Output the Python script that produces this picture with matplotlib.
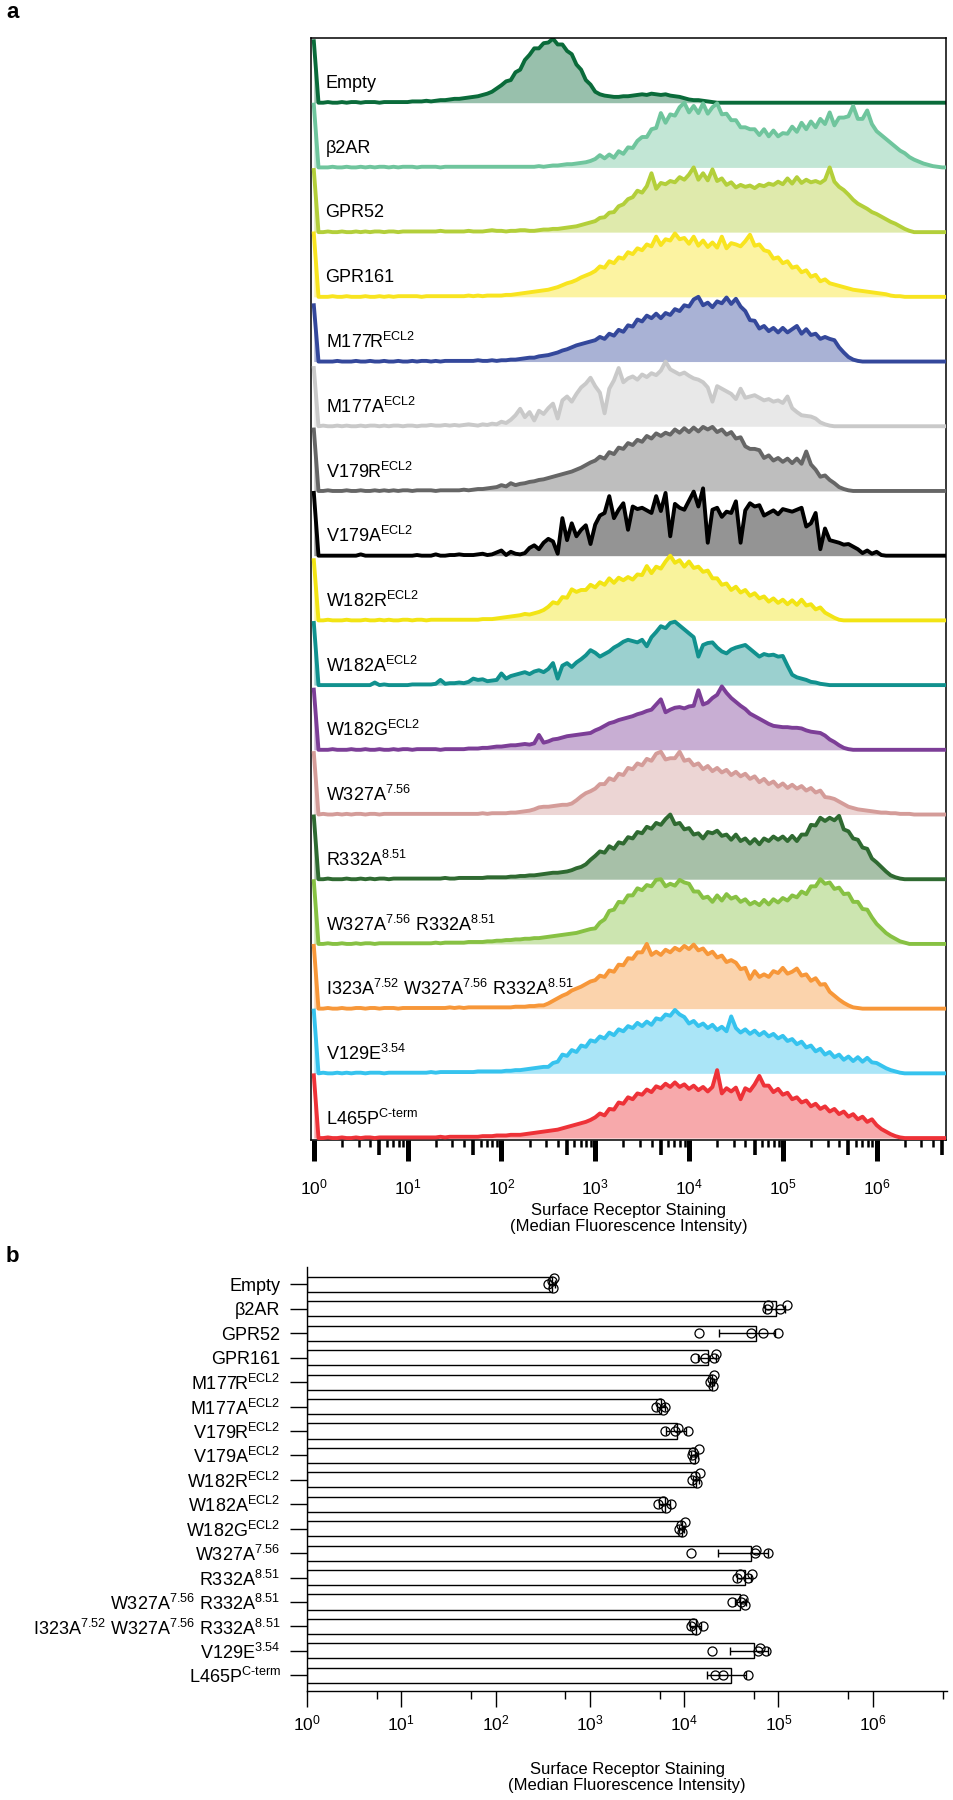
import numpy as np
import matplotlib

matplotlib.use("Agg")
import matplotlib.pyplot as plt
import matplotlib.transforms as mtransforms
from matplotlib.ticker import FixedLocator, NullFormatter

plt.rcParams["font.family"] = ["Liberation Sans", "DejaVu Sans"]
plt.rcParams["mathtext.fontset"] = "custom"
plt.rcParams["mathtext.rm"] = "Liberation Sans"
plt.rcParams["mathtext.it"] = "Liberation Sans:italic"
plt.rcParams["mathtext.bf"] = "Liberation Sans:bold"

# ---- panel a: flow histograms (% of mode), bins are 0.05 decades from 10^0 ----
BIN_LOG = np.linspace(0, 6.75, 136)

EMPTY = [95, 0, 0, 1, 0, 0, 1, 0, 1, 1, 0, 1, 1, 1, 0, 1, 1, 1, 1, 1,
         1, 2, 2, 2, 3, 2, 3, 4, 4, 5, 6, 6, 7, 8, 9, 10, 12, 14, 17, 22,
         27, 33, 35, 47, 51, 66, 74, 84, 84, 92, 93, 99, 90, 90, 80, 75, 59, 51, 35, 28,
         17, 13, 11, 10, 9, 9, 10, 10, 11, 12, 13, 12, 14, 13, 12, 13, 11, 10, 9, 7,
         5, 4, 4, 3, 2, 1, 0, 0, 0, 0, 0, 0, 0, 0, 0, 0, 0, 0, 0, 0,
         0, 0, 0, 0, 0, 0, 0, 0, 0, 0, 0, 0, 0, 0, 0, 0, 0, 0, 0, 0,
         0, 0, 0, 0, 0, 0, 0, 0, 0, 0, 0, 0, 0, 0, 0, 0]
B2AR = [97, 0, 0, 0, 1, 0, 0, 1, 0, 0, 1, 0, 1, 0, 1, 1, 0, 1, 0, 1,
        1, 1, 0, 1, 1, 1, 1, 0, 1, 1, 1, 1, 1, 1, 1, 1, 1, 1, 1, 1,
        1, 1, 1, 1, 1, 1, 1, 1, 2, 1, 2, 3, 3, 4, 5, 5, 6, 7, 8, 10,
        13, 19, 14, 20, 15, 25, 21, 31, 30, 41, 47, 47, 59, 61, 84, 69, 82, 80, 93, 100,
        85, 95, 84, 99, 83, 93, 99, 82, 83, 73, 73, 62, 62, 59, 59, 50, 59, 48, 57, 48,
        53, 52, 63, 55, 69, 59, 71, 62, 75, 67, 85, 65, 77, 77, 79, 95, 75, 75, 88, 67,
        56, 50, 44, 38, 32, 26, 22, 16, 12, 9, 6, 4, 2, 1, 0, 0]
GPR52 = [96, 0, 0, 1, 0, 0, 1, 0, 0, 1, 0, 1, 0, 1, 1, 0, 1, 1, 0, 1,
         1, 1, 1, 1, 1, 1, 1, 2, 1, 1, 1, 1, 1, 2, 1, 1, 1, 2, 3, 2,
         2, 1, 2, 2, 3, 3, 2, 2, 3, 4, 4, 5, 5, 6, 7, 8, 9, 11, 13, 15,
         17, 22, 23, 30, 31, 40, 43, 51, 54, 64, 61, 71, 91, 67, 76, 74, 79, 77, 85, 81,
         89, 100, 81, 91, 80, 97, 79, 83, 73, 77, 69, 73, 70, 72, 68, 73, 71, 75, 73, 78,
         74, 83, 75, 85, 76, 81, 77, 79, 76, 81, 100, 78, 70, 65, 58, 50, 44, 40, 36, 31,
         28, 24, 20, 16, 13, 9, 5, 2, 0, 0, 0, 0, 0, 0, 0, 0]
GPR161 = [98, 0, 0, 0, 1, 0, 0, 1, 0, 0, 0, 1, 0, 0, 1, 0, 1, 0, 1, 1,
          1, 1, 1, 0, 1, 1, 1, 1, 1, 1, 1, 1, 1, 2, 1, 2, 1, 2, 2, 2,
          2, 3, 3, 4, 5, 6, 7, 8, 9, 10, 11, 13, 15, 18, 21, 23, 26, 30, 33, 36,
          40, 47, 45, 55, 52, 61, 59, 69, 66, 75, 72, 81, 78, 93, 80, 89, 87, 98, 89, 91,
          82, 93, 79, 87, 77, 84, 76, 93, 75, 83, 81, 78, 86, 96, 79, 81, 72, 70, 59, 61,
          52, 55, 45, 47, 38, 41, 31, 34, 24, 27, 21, 19, 17, 15, 13, 11, 10, 9, 8, 7,
          6, 5, 4, 2, 1, 1, 0, 0, 0, 0, 0, 0, 0, 0, 0, 0]
M177R = [87, 0, 0, 0, 0, 1, 0, 0, 0, 1, 0, 0, 1, 0, 0, 1, 0, 0, 1, 0,
         0, 1, 0, 1, 1, 0, 1, 0, 1, 1, 1, 1, 1, 1, 1, 2, 1, 1, 2, 1,
         2, 2, 3, 3, 4, 5, 6, 6, 8, 9, 10, 12, 14, 17, 19, 22, 25, 27, 29, 31,
         33, 38, 35, 43, 40, 49, 46, 56, 54, 65, 62, 71, 67, 74, 67, 75, 72, 81, 78, 87,
         85, 96, 100, 87, 91, 84, 93, 90, 99, 89, 97, 85, 78, 64, 63, 51, 55, 47, 52, 45,
         52, 45, 50, 55, 43, 50, 41, 43, 35, 38, 35, 33, 22, 14, 7, 3, 1, 0, 0, 0,
         0, 0, 0, 0, 0, 0, 0, 0, 0, 0, 0, 0, 0, 0, 0, 0]
M177A = [90, 0, 1, 0, 0, 1, 0, 1, 0, 0, 1, 0, 1, 1, 0, 1, 0, 1, 1, 0,
         1, 1, 0, 1, 1, 2, 1, 1, 2, 1, 2, 1, 2, 3, 2, 1, 3, 2, 4, 3,
         7, 5, 10, 17, 27, 14, 22, 9, 24, 19, 28, 35, 12, 40, 46, 38, 50, 60, 66, 75,
         62, 52, 20, 58, 71, 90, 68, 74, 77, 72, 80, 76, 82, 79, 86, 100, 88, 84, 80, 83,
         78, 74, 72, 68, 60, 38, 62, 58, 54, 50, 42, 58, 44, 46, 48, 44, 40, 42, 38, 40,
         36, 46, 28, 22, 17, 16, 15, 12, 6, 3, 1, 0, 0, 0, 0, 0, 0, 0, 0, 0,
         0, 0, 0, 0, 0, 0, 0, 0, 0, 0, 0, 0, 0, 0, 0, 0]
V179R = [95, 0, 0, 1, 0, 0, 0, 1, 0, 0, 1, 0, 0, 1, 0, 1, 0, 1, 0, 1,
         1, 0, 1, 1, 1, 1, 0, 1, 1, 1, 1, 1, 2, 1, 2, 3, 3, 4, 5, 6,
         9, 7, 12, 9, 11, 12, 14, 15, 17, 18, 20, 22, 24, 26, 28, 30, 33, 36, 40, 44,
         47, 53, 50, 60, 57, 67, 65, 74, 71, 79, 76, 85, 81, 89, 85, 90, 87, 95, 90, 97,
         91, 98, 92, 99, 95, 99, 91, 95, 87, 91, 81, 83, 69, 65, 65, 63, 51, 55, 47, 51,
         45, 50, 43, 50, 42, 61, 41, 33, 22, 24, 17, 12, 6, 3, 1, 0, 0, 0, 0, 0,
         0, 0, 0, 0, 0, 0, 0, 0, 0, 0, 0, 0, 0, 0, 0, 0]
V179A = [97, 0, 0, 0, 0, 0, 0, 0, 0, 0, 2, 0, 0, 0, 0, 0, 0, 0, 0, 0,
         0, 0, 1, 0, 0, 0, 2, 0, 0, 1, 1, 2, 1, 1, 1, 2, 3, 1, 2, 5,
         8, 1, 6, 3, 2, 4, 12, 16, 10, 20, 26, 22, 3, 58, 24, 50, 30, 40, 47, 18,
         48, 62, 66, 92, 58, 71, 81, 40, 76, 72, 74, 70, 66, 92, 69, 97, 30, 80, 74, 71,
         85, 99, 76, 104, 20, 71, 74, 60, 68, 66, 84, 20, 70, 81, 76, 78, 62, 66, 70, 64,
         72, 70, 68, 71, 74, 45, 50, 66, 10, 42, 24, 22, 20, 17, 18, 14, 10, 4, 8, 3,
         6, 1, 0, 0, 0, 0, 0, 0, 0, 0, 0, 0, 0, 0, 0, 0]
W182R = [93, 0, 0, 1, 0, 0, 0, 1, 0, 0, 0, 1, 0, 0, 1, 0, 1, 0, 0, 1,
         1, 0, 1, 1, 0, 1, 1, 1, 1, 1, 1, 1, 1, 1, 1, 1, 2, 2, 2, 3,
         4, 5, 6, 7, 8, 10, 9, 11, 13, 16, 21, 28, 26, 36, 35, 48, 44, 47, 47, 55,
         51, 59, 55, 65, 58, 66, 62, 67, 63, 71, 70, 84, 73, 83, 80, 91, 100, 89, 93, 83,
         91, 81, 83, 75, 77, 65, 65, 55, 57, 47, 52, 43, 47, 38, 42, 34, 37, 29, 34, 27,
         32, 25, 31, 24, 32, 23, 25, 17, 20, 12, 8, 4, 1, 0, 0, 0, 0, 0, 0, 0,
         0, 0, 0, 0, 0, 0, 0, 0, 0, 0, 0, 0, 0, 0, 0, 0]
W182A = [96, 0, 0, 0, 0, 0, 0, 0, 0, 0, 0, 0, 0, 4, 0, 1, 0, 0, 0, 0,
         0, 1, 1, 1, 1, 1, 2, 8, 2, 3, 3, 4, 3, 5, 10, 8, 9, 6, 7, 8,
         18, 10, 14, 16, 18, 20, 17, 21, 23, 20, 25, 34, 10, 30, 34, 28, 35, 40, 46, 54,
         50, 44, 48, 52, 58, 62, 67, 70, 68, 66, 70, 60, 74, 82, 91, 88, 96, 98, 92, 86,
         80, 74, 44, 62, 65, 66, 58, 52, 49, 55, 58, 60, 62, 56, 50, 44, 48, 46, 47, 44,
         45, 30, 16, 12, 10, 8, 5, 4, 2, 1, 0, 0, 0, 0, 0, 0, 0, 0, 0, 0,
         0, 0, 0, 0, 0, 0, 0, 0, 0, 0, 0, 0, 0, 0, 0, 0]
W182G = [93, 0, 0, 0, 1, 0, 0, 0, 1, 0, 0, 1, 0, 0, 1, 0, 0, 1, 0, 1,
         1, 0, 1, 1, 1, 1, 1, 0, 1, 1, 1, 1, 1, 2, 2, 2, 3, 3, 4, 5,
         5, 6, 7, 7, 8, 9, 8, 10, 23, 11, 13, 16, 17, 19, 21, 22, 23, 24, 25, 26,
         30, 33, 37, 41, 43, 46, 48, 50, 52, 55, 57, 60, 62, 70, 78, 58, 62, 65, 66, 64,
         67, 68, 92, 70, 73, 80, 85, 98, 88, 80, 74, 68, 63, 56, 52, 48, 44, 40, 37, 36,
         35, 35, 34, 34, 33, 30, 28, 27, 26, 22, 16, 12, 7, 3, 1, 0, 0, 0, 0, 0,
         0, 0, 0, 0, 0, 0, 0, 0, 0, 0, 0, 0, 0, 0, 0, 0]
W327A = [95, 0, 1, 0, 0, 1, 0, 1, 0, 1, 1, 0, 1, 1, 0, 1, 1, 1, 1, 1,
         1, 1, 1, 1, 1, 1, 1, 1, 1, 1, 1, 1, 1, 1, 1, 1, 2, 1, 2, 2,
         2, 2, 3, 3, 4, 5, 6, 8, 11, 12, 12, 13, 14, 15, 15, 17, 22, 28, 33, 36,
         40, 47, 47, 56, 53, 63, 61, 72, 70, 79, 76, 86, 83, 94, 97, 85, 87, 87, 97, 83,
         85, 76, 79, 70, 75, 67, 72, 65, 69, 61, 66, 59, 63, 55, 59, 50, 55, 47, 51, 43,
         48, 41, 46, 40, 44, 37, 41, 34, 37, 27, 26, 24, 20, 16, 12, 10, 8, 7, 6, 5,
         4, 3, 3, 2, 2, 1, 1, 1, 0, 0, 0, 0, 0, 0, 0, 0]
R332A = [97, 0, 0, 1, 0, 0, 0, 1, 0, 0, 1, 0, 1, 0, 1, 1, 0, 1, 1, 1,
         1, 1, 1, 1, 1, 1, 1, 1, 2, 1, 1, 2, 2, 2, 2, 2, 2, 3, 3, 3,
         3, 3, 4, 4, 5, 5, 6, 6, 7, 8, 9, 10, 10, 11, 12, 14, 17, 19, 23, 30,
         36, 43, 41, 51, 47, 57, 55, 65, 63, 73, 71, 81, 78, 87, 84, 93, 100, 85, 87, 77,
         79, 69, 71, 63, 73, 71, 75, 67, 69, 61, 69, 59, 63, 55, 62, 54, 63, 59, 66, 61,
         66, 59, 67, 59, 69, 69, 84, 83, 95, 90, 95, 91, 98, 77, 74, 63, 61, 49, 47, 32,
         26, 19, 12, 6, 3, 1, 0, 0, 0, 0, 0, 0, 0, 0, 0, 0]
W327A_R332A = [97, 0, 0, 1, 0, 0, 1, 0, 0, 1, 0, 1, 1, 0, 1, 1, 1, 1, 1, 1,
               1, 1, 1, 1, 1, 1, 2, 1, 2, 2, 2, 2, 2, 3, 3, 3, 3, 4, 4, 5,
               5, 6, 6, 7, 7, 8, 8, 9, 9, 10, 11, 12, 13, 14, 15, 16, 17, 19, 21, 23,
               24, 33, 38, 51, 53, 65, 64, 75, 75, 86, 83, 91, 89, 99, 100, 89, 93, 90, 99, 95,
               93, 81, 81, 71, 73, 65, 75, 67, 77, 70, 73, 65, 69, 61, 65, 60, 68, 61, 69, 64,
               71, 67, 75, 72, 81, 77, 89, 89, 100, 93, 95, 85, 87, 77, 78, 65, 65, 54, 53, 41,
               31, 24, 17, 12, 8, 4, 2, 0, 0, 0, 0, 0, 0, 0, 0, 0]
I323A_W327A_R332A = [97, 0, 0, 1, 0, 0, 1, 0, 0, 1, 1, 0, 1, 1, 0, 1, 1, 1, 0, 1,
                     1, 1, 1, 1, 1, 1, 1, 1, 1, 2, 1, 2, 1, 2, 2, 2, 2, 2, 2, 2,
                     2, 2, 2, 3, 3, 3, 4, 4, 5, 5, 8, 12, 16, 20, 23, 28, 31, 34, 38, 42,
                     44, 51, 49, 59, 57, 68, 67, 78, 77, 87, 87, 100, 83, 88, 83, 91, 87, 94, 90, 97,
                     92, 99, 90, 93, 84, 88, 79, 82, 72, 75, 71, 61, 63, 46, 58, 49, 53, 49, 58, 55,
                     63, 54, 57, 62, 51, 53, 43, 47, 37, 38, 26, 20, 14, 9, 5, 2, 1, 0, 0, 0,
                     0, 0, 0, 0, 0, 0, 0, 0, 0, 0, 0, 0, 0, 0, 0, 0]
V129E = [97, 0, 1, 0, 0, 1, 0, 1, 0, 1, 1, 0, 1, 1, 1, 0, 1, 1, 1, 1,
         1, 1, 1, 1, 1, 2, 1, 2, 2, 2, 2, 2, 2, 2, 2, 3, 3, 3, 3, 3,
         3, 4, 4, 5, 5, 6, 7, 8, 9, 10, 10, 16, 18, 29, 27, 36, 33, 43, 41, 51,
         49, 57, 54, 63, 59, 68, 65, 73, 70, 78, 73, 80, 75, 85, 83, 91, 89, 98, 91, 87,
         77, 81, 73, 77, 70, 75, 67, 72, 65, 88, 70, 63, 68, 61, 66, 59, 64, 57, 61, 54,
         58, 50, 53, 45, 49, 40, 43, 34, 38, 29, 33, 25, 29, 21, 26, 19, 25, 18, 24, 17,
         16, 12, 8, 5, 3, 1, 0, 0, 0, 0, 0, 0, 0, 0, 0, 0]
L465P = [97, 0, 0, 1, 0, 0, 1, 0, 0, 1, 0, 1, 1, 0, 1, 1, 1, 1, 1, 1,
         1, 1, 1, 1, 1, 1, 1, 2, 1, 2, 2, 2, 2, 2, 2, 2, 3, 3, 3, 4,
         4, 4, 5, 5, 5, 6, 7, 8, 9, 10, 11, 12, 13, 15, 17, 19, 21, 23, 25, 28,
         32, 38, 35, 45, 44, 55, 53, 63, 60, 69, 67, 75, 71, 80, 77, 84, 79, 86, 79, 83,
         76, 81, 74, 79, 72, 79, 105, 69, 77, 72, 78, 60, 77, 73, 83, 96, 81, 81, 71, 76,
         67, 70, 60, 63, 55, 58, 49, 53, 45, 49, 41, 45, 37, 41, 33, 37, 29, 33, 25, 29,
         20, 14, 10, 6, 3, 1, 0, 0, 0, 0, 0, 0, 0, 0, 0, 0]

HISTS = [EMPTY, B2AR, GPR52, GPR161, M177R, M177A, V179R, V179A, W182R,
         W182A, W182G, W327A, R332A, W327A_R332A, I323A_W327A_R332A, V129E, L465P]

LABELS_A = ["Empty", "β2AR", "GPR52", "GPR161",
            r"M177R$^{\mathrm{ECL2}}$", r"M177A$^{\mathrm{ECL2}}$",
            r"V179R$^{\mathrm{ECL2}}$", r"V179A$^{\mathrm{ECL2}}$",
            r"W182R$^{\mathrm{ECL2}}$", r"W182A$^{\mathrm{ECL2}}$",
            r"W182G$^{\mathrm{ECL2}}$", r"W327A$^{7.56}$", r"R332A$^{8.51}$",
            r"W327A$^{7.56}$ R332A$^{8.51}$",
            r"I323A$^{7.52}$ W327A$^{7.56}$ R332A$^{8.51}$",
            r"V129E$^{3.54}$", r"L465P$^{\mathrm{C\text{-}term}}$"]

COLORS = ["#0a6b3a", "#6fc59d", "#b3cf3a", "#f8e41f", "#34489b", "#c9c9c9",
          "#666666", "#000000", "#f2e414", "#11918e", "#7c3e97", "#d49c99",
          "#2f6a31", "#87c143", "#f79739", "#36c3ee", "#ee3238"]

# ---- panel b: median fluorescence intensity, individual replicates ----
MFI_POINTS = [
    [360, 395, 410, 420],
    [75000, 78000, 105000, 122000],
    [14500, 51500, 67800, 97700],
    [12900, 16600, 20500, 21500],
    [18800, 19600, 20200, 20800],
    [5000, 5600, 5900, 6300],
    [6200, 8000, 8600, 11000],
    [12000, 12500, 12800, 14500],
    [12200, 12900, 13600, 14600],
    [5300, 6000, 6400, 7300],
    [8800, 9200, 9500, 10200],
    [11800, 56000, 58000, 77000],
    [36000, 39500, 47500, 53000],
    [32000, 40000, 42000, 44000],
    [11800, 12500, 13200, 15800],
    [19800, 60000, 64000, 74000],
    [21200, 26100, 47500],
]

W, H = 954, 1800
fig = plt.figure(figsize=(W / 100, H / 100), dpi=100)

# ================= panel a =================
ax = fig.add_axes([311 / W, 1 - 1140 / H, 635 / W, 1102 / H])
n = len(HISTS)
x = 10.0 ** BIN_LOG
lab_tr = mtransforms.blended_transform_factory(ax.transAxes, ax.transData)
for i, (vals, col, lab) in enumerate(zip(HISTS, COLORS, LABELS_A)):
    base = n - 1 - i
    y = base + np.asarray(vals, dtype=float) / 100.0
    ax.fill_between(x, base, y, color=col, alpha=0.42, lw=0, zorder=2 * i + 1)
    ax.plot(x, y, color=col, lw=2.8, zorder=2 * i + 2)
    ax.text(0.023, base + 0.3, lab, transform=lab_tr, fontsize=13,
            ha="left", va="center", zorder=100)

ax.set_xscale("log")
ax.set_xlim(10 ** -0.03, 10 ** 6.74)
ax.set_ylim(-0.03, n)
ax.set_yticks([])
ax.xaxis.set_major_locator(FixedLocator(10.0 ** np.arange(0, 7)))
minor = [m * 10.0 ** k for k in range(0, 7) for m in (2, 3, 4, 6, 7, 8, 9)]
ax.xaxis.set_minor_locator(FixedLocator(minor))
ax.xaxis.set_minor_formatter(NullFormatter())
ax.tick_params(axis="x", which="major", length=15, width=3.6, labelsize=12.5, pad=12)
ax.tick_params(axis="x", which="minor", length=5, width=1.8)
for s in ax.spines.values():
    s.set_linewidth(1.1)

sec = ax.secondary_xaxis("bottom")
sec.xaxis.set_major_locator(FixedLocator([5 * 10.0 ** k for k in range(0, 7)]))
sec.xaxis.set_major_formatter(NullFormatter())
sec.xaxis.set_minor_locator(FixedLocator([]))
sec.tick_params(axis="x", which="major", length=11, width=2.6)
sec.spines["bottom"].set_visible(False)

ax.set_xlabel("Surface Receptor Staining\n(Median Fluorescence Intensity)",
              fontsize=12, labelpad=4, linespacing=1.1)

# ================= panel b =================
axb = fig.add_axes([307 / W, 1 - 1691 / H, 640 / W, 424 / H])
ypos = np.arange(len(MFI_POINTS))
means = np.array([np.mean(p) for p in MFI_POINTS])
sds = np.array([np.std(p, ddof=1) for p in MFI_POINTS])

axb.barh(ypos, means - 1, left=1, height=0.62, color="white",
         edgecolor="black", linewidth=1.0, zorder=1)
axb.errorbar(means, ypos, xerr=sds, fmt="none", ecolor="black",
             elinewidth=1.0, capsize=3, capthick=1.0, zorder=2)

# simple swarm so overlapping replicates spread vertically
for yi, pts in zip(ypos, MFI_POINTS):
    placed = []
    for v in sorted(pts):
        lv = np.log10(v)
        for off in (0.0, -0.14, 0.14, -0.28, 0.28):
            if all(abs(lv - pl) > 0.09 or po != off for pl, po in placed):
                break
        placed.append((lv, off))
        axb.plot(v, yi + off, "o", ms=6.5, mfc="none", mec="black",
                 mew=0.9, zorder=3)

axb.set_xscale("log")
axb.set_xlim(1, 10 ** 6.787)
axb.set_ylim(16.64, -0.71)
axb.set_yticks(ypos)
axb.set_yticklabels(LABELS_A, fontsize=13)
axb.xaxis.set_major_locator(FixedLocator(10.0 ** np.arange(0, 7)))
axb.xaxis.set_minor_locator(FixedLocator([5.5 * 10.0 ** k for k in range(0, 7)]))
axb.xaxis.set_minor_formatter(NullFormatter())
axb.tick_params(axis="x", which="major", length=11.5, width=1.0, labelsize=12.5, pad=5)
axb.tick_params(axis="x", which="minor", length=6, width=1.0)
axb.tick_params(axis="y", length=12, width=1.0, pad=7)
axb.spines["top"].set_visible(False)
axb.spines["right"].set_visible(False)
for s in ("left", "bottom"):
    axb.spines[s].set_linewidth(1.0)
axb.set_xlabel("Surface Receptor Staining\n(Median Fluorescence Intensity)",
               fontsize=12, labelpad=20, linespacing=1.1)

fig.text(6 / W, 1 - 12 / H, "a", fontsize=16, fontweight="bold", va="center")
fig.text(6 / W, 1 - 1257 / H, "b", fontsize=16, fontweight="bold", va="center")

fig.savefig("out.png", dpi=100, facecolor="white")
